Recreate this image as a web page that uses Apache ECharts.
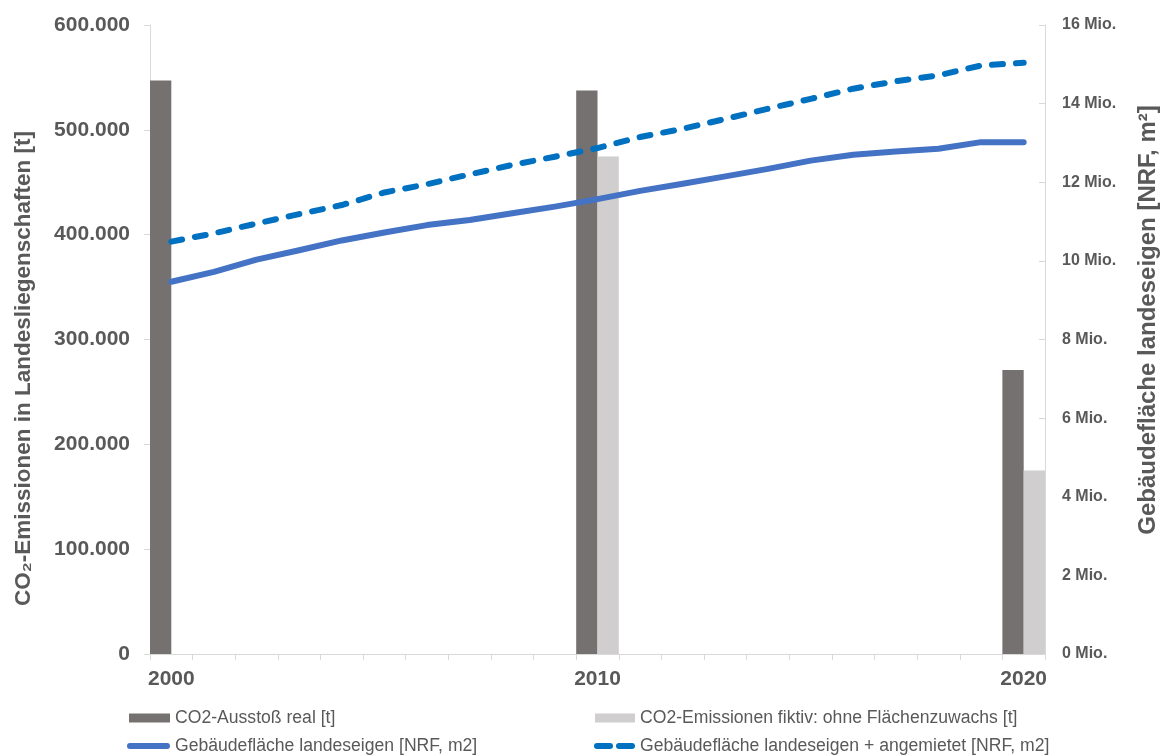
<!DOCTYPE html>
<html>
<head>
<meta charset="utf-8">
<script src="https://cdn.jsdelivr.net/npm/echarts@6/dist/echarts.min.js"></script>
<style>
html,body{margin:0;padding:0;background:#fff;}
#chart{width:1167px;height:756px;}
</style>
</head>
<body>
<div id="chart"></div>
<script>
const years = ['2000','2001','2002','2003','2004','2005','2006','2007','2008','2009','2010',
               '2011','2012','2013','2014','2015','2016','2017','2018','2019','2020'];
const co2Real = [547000,null,null,null,null,null,null,null,null,null,537500,
                 null,null,null,null,null,null,null,null,null,271000];
const co2Fiktiv = [null,null,null,null,null,null,null,null,null,null,474500,
                   null,null,null,null,null,null,null,null,null,175000];
// Mio. m2
const flaecheEigen = [9.47,9.72,10.03,10.27,10.52,10.72,10.91,11.04,11.21,11.38,11.57,
                      11.78,11.96,12.15,12.34,12.55,12.70,12.78,12.85,13.02,13.02];
const flaecheGesamt = [10.49,10.70,10.95,11.19,11.42,11.74,11.95,12.20,12.44,12.65,12.87,
                       13.15,13.36,13.61,13.87,14.12,14.38,14.57,14.72,14.97,15.04];
const leftTicks = {min:0, max:600000, interval:100000};
const rightTicks = {min:0, max:16000000, interval:2000000};
const seriesNames = ['CO2-Ausstoß real [t]','CO2-Emissionen fiktiv: ohne Flächenzuwachs [t]',
                     'Gebäudefläche landeseigen [NRF, m2]','Gebäudefläche landeseigen + angemietet [NRF, m2]'];

const FONT = '"Liberation Sans", Arial, sans-serif';
const GREY = '#595959';
const C_DARK = '#767171', C_LIGHT = '#D0CECE', C_SOLID = '#4472C4', C_DASH = '#0070C0';
const chart = echarts.init(document.getElementById('chart'), null, {renderer:'canvas'});

function dotThousands(v){
  return String(Math.round(v)).replace(/\B(?=(\d{3})+(?!\d))/g,'.');
}

const legendText = {color:GREY, fontSize:17.6, fontFamily:FONT};
const solidIcon = 'path://M3,0H41A3,3 0 0 1 41,6H3A3,3 0 0 1 3,0Z';
const dashIcon = 'path://M3,0H16A3,3 0 0 1 16,6H3A3,3 0 0 1 3,0Z M25,0H38A3,3 0 0 1 38,6H25A3,3 0 0 1 25,0Z';
function oneLegend(name, icon, color, left, top, w, h){
  return {data:[{name:name, icon:icon, itemStyle:{color:color, borderWidth:0}}],
          left:left, top:top, padding:0, itemWidth:w, itemHeight:h,
          textStyle:legendText, selectedMode:false};
}

chart.setOption({
  backgroundColor:'#ffffff',
  animation:false,
  grid:{left:150, right:122, top:25, bottom:102, outerBoundsMode:'none', containLabel:false},
  legend:[
    oneLegend(seriesNames[0], 'rect', C_DARK, 129, 709, 41, 9),
    oneLegend(seriesNames[1], 'rect', C_LIGHT, 595, 709, 40, 9),
    oneLegend(seriesNames[2], solidIcon, C_SOLID, 127, 737, 43, 6),
    oneLegend(seriesNames[3], dashIcon, C_DASH, 594, 737, 41, 6)
  ],
  xAxis:{
    type:'category', data:years, boundaryGap:true,
    axisLine:{show:true, lineStyle:{color:'#D9D9D9', width:1}},
    axisTick:{show:true, interval:0, length:6, lineStyle:{color:'#D9D9D9'}},
    axisLabel:{interval:function(i,v){return Number(v)%10===0;}, color:GREY, fontSize:21,
               fontWeight:'bold', fontFamily:FONT, margin:15},
    splitLine:{show:false}
  },
  yAxis:[
    {type:'value', position:'left', min:leftTicks.min, max:leftTicks.max, interval:leftTicks.interval,
     name:'CO\u2082-Emissionen in Landesliegenschaften [t]', nameLocation:'middle', nameGap:115,
     nameTextStyle:{color:GREY, fontSize:22.5, fontWeight:'bold', fontFamily:FONT, padding:[0,58,0,0]},
     axisLine:{show:true, lineStyle:{color:'#D9D9D9'}},
     axisTick:{show:true, length:6, lineStyle:{color:'#D9D9D9'}},
     axisLabel:{formatter:dotThousands, color:GREY, fontSize:21, fontWeight:'bold', fontFamily:FONT, margin:20},
     splitLine:{show:false}},
    {type:'value', position:'right', min:rightTicks.min, max:rightTicks.max, interval:rightTicks.interval,
     name:'Gebäudefläche landeseigen [NRF, m\u00B2]', nameLocation:'middle', nameGap:91,
     nameTextStyle:{color:GREY, fontSize:24, fontWeight:'bold', fontFamily:FONT, padding:[0,0,0,39]},
     axisLine:{show:true, lineStyle:{color:'#D9D9D9'}},
     axisTick:{show:true, inside:true, length:6, lineStyle:{color:'#D9D9D9'}},
     axisLabel:{formatter:function(v){return Math.round(v/1e6)+' Mio.';}, color:GREY, fontSize:16,
                fontWeight:'bold', fontFamily:FONT, margin:17},
     splitLine:{show:false}}
  ],
  series:[
    {name:seriesNames[0], type:'bar', yAxisIndex:0, data:co2Real, barGap:'0%', barCategoryGap:'0%',
     itemStyle:{color:C_DARK}, z:2},
    {name:seriesNames[1], type:'bar', yAxisIndex:0, data:co2Fiktiv, barGap:'0%', barCategoryGap:'0%',
     itemStyle:{color:C_LIGHT}, z:2},
    {name:seriesNames[2], type:'line', yAxisIndex:1, data:flaecheEigen.map(v=>v*1e6),
     showSymbol:false, symbol:'none', itemStyle:{color:C_SOLID},
     lineStyle:{color:C_SOLID, width:6, cap:'round', join:'round'}, z:3},
    {name:seriesNames[3], type:'line', yAxisIndex:1, data:flaecheGesamt.map(v=>v*1e6),
     showSymbol:false, symbol:'none', itemStyle:{color:C_DASH},
     lineStyle:{color:C_DASH, width:6, type:[11,13], cap:'round', join:'round'}, z:4}
  ]
});
</script>
</body>
</html>
